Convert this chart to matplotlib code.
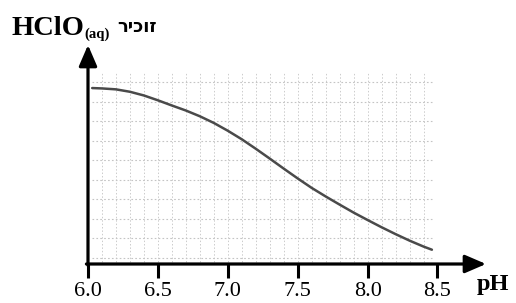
import numpy as np
import matplotlib
matplotlib.use("Agg")
import matplotlib.pyplot as plt

# Data (relative HClO concentration vs pH)
ph = [6.03, 6.1, 6.2, 6.3, 6.4, 6.5, 6.6, 6.7, 6.8, 6.9, 7.0, 7.1, 7.2,
      7.3, 7.4, 7.5, 7.6, 7.7, 7.8, 7.9, 8.0, 8.1, 8.2, 8.3, 8.4, 8.46]
conc = [0.968, 0.966, 0.961, 0.948, 0.928, 0.902, 0.874, 0.847, 0.816,
        0.780, 0.738, 0.692, 0.641, 0.588, 0.534, 0.481, 0.430, 0.384,
        0.340, 0.297, 0.257, 0.218, 0.181, 0.146, 0.114, 0.097]
xticks = [6.0, 6.5, 7.0, 7.5, 8.0, 8.5]
xticklabels = ["6.0", "6.5", "7.0", "7.5", "8.0", "8.5"]

serif = ["Liberation Serif", "DejaVu Serif"]

fig = plt.figure(figsize=(5.16, 3.03), dpi=100)
W, H = 516, 303
ax = fig.add_axes([88 / W, 1 - 264 / H, 398 / W, (264 - 45) / H])
ax.set_xlim(6.0, 8.847)
ax.set_ylim(0.02, 1.20)

# faint scanned-style grid in the plot region
gx0, gx1 = 6.03, 8.47
gy0, gy1 = 0.03, 1.05
for gx in np.arange(6.1, 8.45, 0.1):
    ax.vlines(gx, gy0, gy1, color="#cccccc", lw=0.7, ls=(0, (1.5, 2)), zorder=1)
for gy in np.arange(0.055, 1.05, 0.105):
    ax.hlines(gy, gx0, gx1, color="#c4c4c4", lw=0.8, ls=(0, (1.5, 2)), zorder=1)

ax.plot(ph, conc, color="#4a4a4a", lw=1.8, zorder=3,
        solid_capstyle="round", solid_joinstyle="round")

for s in ["top", "right", "left", "bottom"]:
    ax.spines[s].set_visible(False)
ax.set_yticks([])
ax.set_xticks(xticks)
ax.set_xticklabels(xticklabels, fontfamily=serif, fontsize=16)
ax.tick_params(axis="x", length=10, width=2.2, direction="out", pad=3, color="black")

# axis arrows
head = "-|>,head_length=0.58,head_width=0.25"
ax.annotate("", xy=(1.0, 0), xytext=(-0.004, 0), xycoords="axes fraction",
            arrowprops=dict(arrowstyle=head, lw=2.3, color="black",
                            mutation_scale=22, shrinkA=0, shrinkB=0))
ax.annotate("", xy=(0, 1.0), xytext=(0, -0.006), xycoords="axes fraction",
            arrowprops=dict(arrowstyle=head, lw=2.3, color="black",
                            mutation_scale=22, shrinkA=0, shrinkB=0))

# labels
fig.text(477 / W, 1 - 290 / H, "pH", fontfamily=serif, fontweight="bold",
         fontsize=17.5, va="baseline", ha="left")
fig.text(11 / W, 1 - 35 / H, "HClO", fontfamily=serif, fontweight="bold",
         fontsize=20.5, va="baseline", ha="left")
fig.text(84 / W, 1 - 38 / H, "(aq)", fontfamily=serif, fontweight="bold",
         fontsize=10.5, va="baseline", ha="left")
fig.text(117 / W, 1 - 32 / H, "ריכוז", fontfamily=["DejaVu Sans"], fontweight="bold",
         fontsize=13, va="baseline", ha="left")

fig.savefig("out.png", dpi=100)
